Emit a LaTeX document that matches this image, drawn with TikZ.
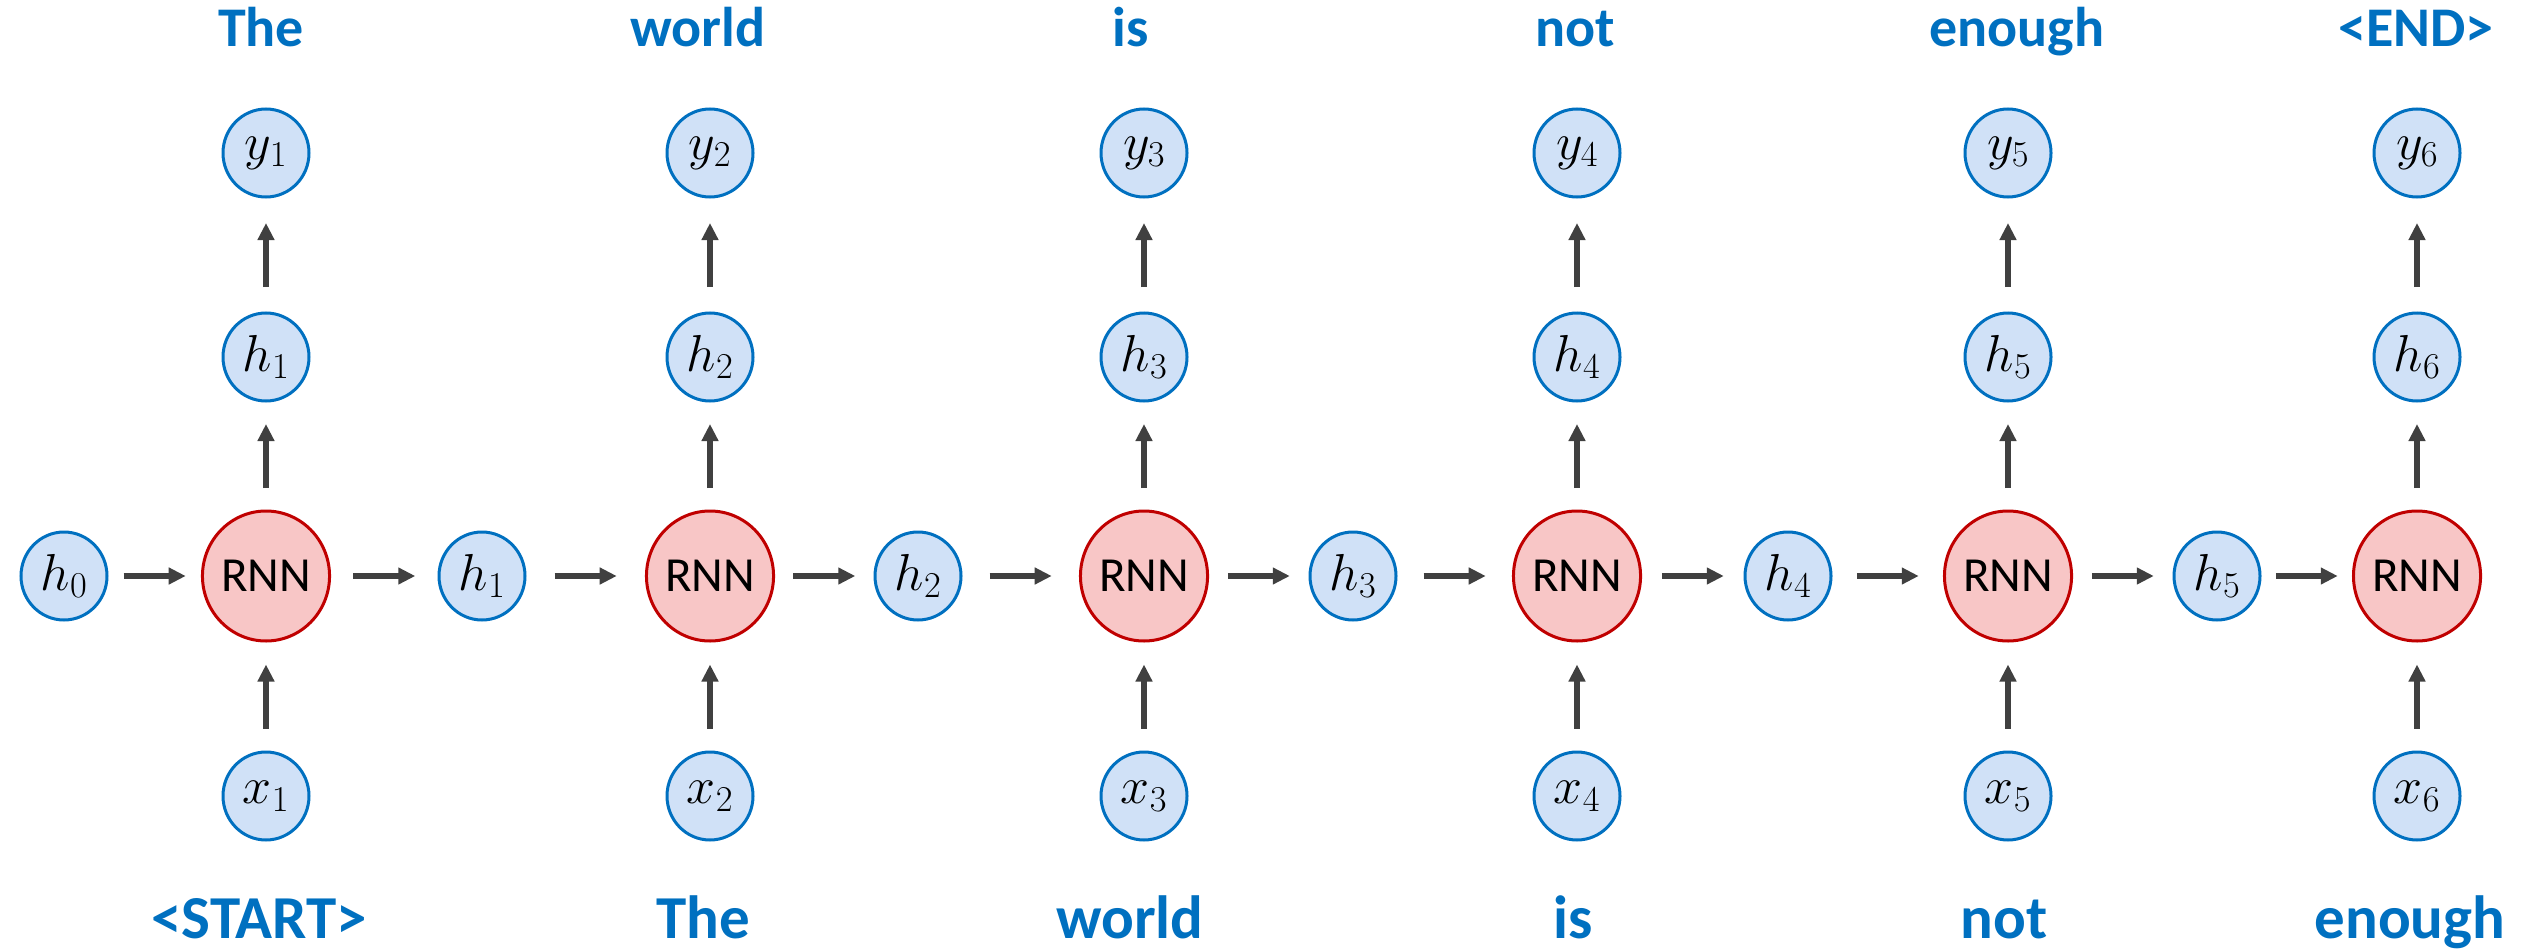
\RequirePackage{fix-cm}
\documentclass[tikz,border=0pt]{standalone}
\usepackage{fontspec}
\newfontfamily\carlito{Carlito}
\usetikzlibrary{calc,arrows.meta,shapes.geometric}
\definecolor{wordblue}{HTML}{0070C0}
\definecolor{statefill}{HTML}{D0E1F7}
\definecolor{cellfill}{HTML}{F8C6C6}
\definecolor{cellline}{HTML}{C00000}
\definecolor{arrowgray}{HTML}{404040}
\begin{document}
\begin{tikzpicture}[x=1pt,y=-1pt,
  state/.style={ellipse, draw=wordblue, line width=3pt, fill=statefill,
    minimum width=86pt, minimum height=88pt, inner sep=0pt,
    font=\fontsize{52}{62}\selectfont},
  cell/.style={ellipse, draw=cellline, line width=3pt, fill=cellfill,
    minimum width=123pt, minimum height=130pt, inner sep=0pt,
    font=\carlito\fontsize{49}{58}\selectfont},
  topword/.style={anchor=base, text=wordblue, inner sep=0pt,
    font=\carlito\bfseries\fontsize{56}{66}\selectfont},
  botword/.style={anchor=base, text=wordblue, inner sep=0pt,
    font=\carlito\bfseries\fontsize{61}{72}\selectfont},
  flow/.style={draw=arrowgray, line width=5.5pt, -{Triangle[length=17pt,width=16pt]}},
  hop/.style={to path={($(\tikztostart.east)!.5!(\tikztotarget.west)$) ++(-31,0) -- ++(62,0)}},
  rise/.style={to path={($(\tikztostart.north)!.5!(\tikztotarget.south)$) ++(0,32) -- ++(0,-64)}},
]
\fill[white] (0,0) rectangle (2526,952);
\useasboundingbox (0,0) rectangle (2526,952);

% initial hidden state
\node[state] (m0) at (64,576) {$h_0$};

% unrolled time steps: RNN cell and the hidden state it passes on
\foreach \i/\cx/\mx in {1/266/482, 2/710/918, 3/1144/1353, 4/1577/1788, 5/2008/2217} {
  \node[cell]  (r\i) at (\cx,576) {RNN};
  \node[state] (m\i) at (\mx,576) {$h_{\i}$};
}
\node[cell] (r6) at (2417,576) {RNN};

% input, hidden output and prediction above/below each cell
\foreach \i/\cx in {1/266, 2/710, 3/1144, 4/1577, 5/2008, 6/2417} {
  \node[state] (x\i) at (\cx,796) {$x_{\i}$};
  \node[state] (h\i) at (\cx,357) {$h_{\i}$};
  \node[state] (y\i) at (\cx,153) {$y_{\i}$};
  \draw[flow] (x\i) to[rise] (r\i);
  \draw[flow] (r\i) to[rise] (h\i);
  \draw[flow] (h\i) to[rise] (y\i);
}

% recurrence along the chain
\foreach \i [evaluate=\i as \j using int(\i+1)] in {0,...,5} {
  \draw[flow] (m\i) to[hop] (r\j);
}
\foreach \i in {1,...,5} {
  \draw[flow] (r\i) to[hop] (m\i);
}

% output words
\node[topword] (o1) at (261,47)  {The};
\node[topword] (o2) at (698,47)  {world};
\node[topword] (o3) at (1131,47) {is};
\node[topword] (o4) at (1575,47) {not};
\node[topword] (o5) at (2017,47) {enough};
\node[topword] (o6) at (2416,47) {<END>};

% input words
\node[botword] (i1) at (259,938)  {<START>};
\node[botword] (i2) at (703,938)  {The};
\node[botword] (i3) at (1130,938) {world};
\node[botword] (i4) at (1573,938) {is};
\node[botword] (i5) at (2004,938) {not};
\node[botword] (i6) at (2410,938) {enough};
\end{tikzpicture}
\end{document}
